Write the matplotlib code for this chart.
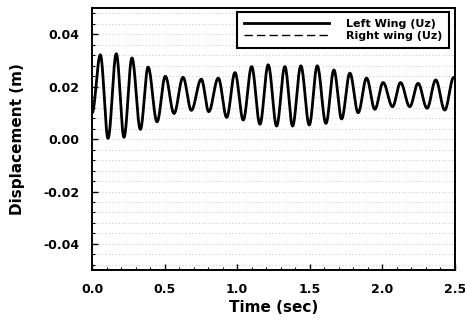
import numpy as np
import matplotlib
matplotlib.use("Agg")
import matplotlib.pyplot as plt
from matplotlib.ticker import MultipleLocator

# Extrema (time in s, displacement in m)
start_t, start_v = 0.0, 0.010
peak_t = [0.057, 0.167, 0.275, 0.386, 0.505, 0.627, 0.753, 0.870, 0.985, 1.100, 1.214,
          1.329, 1.439, 1.552, 1.667, 1.777, 1.892, 2.006, 2.126, 2.247, 2.369, 2.493]
peak_v = [0.0322, 0.0326, 0.0310, 0.0275, 0.0240, 0.0236, 0.0229, 0.0233, 0.0254, 0.0277, 0.0284,
          0.0277, 0.0280, 0.0280, 0.0264, 0.0252, 0.0233, 0.0216, 0.0216, 0.0213, 0.0226, 0.0236]
trough_t = [0.110, 0.220, 0.333, 0.448, 0.565, 0.684, 0.804, 0.928, 1.042, 1.157, 1.272,
            1.382, 1.497, 1.612, 1.720, 1.834, 1.949, 2.071, 2.190, 2.309, 2.431]
trough_v = [0.0003, 0.0007, 0.0037, 0.0066, 0.0098, 0.0110, 0.0105, 0.0083, 0.0073, 0.0057, 0.0050,
            0.0050, 0.0054, 0.0060, 0.0077, 0.0101, 0.0114, 0.0124, 0.0124, 0.0118, 0.0111]
end_t, end_v = 2.5, 0.0234

x_ticks = [0.0, 0.5, 1.0, 1.5, 2.0, 2.5]
x_ticklabels = ["0.0", "0.5", "1.0", "1.5", "2.0", "2.5"]
y_ticks = [-0.04, -0.02, 0.00, 0.02, 0.04]
y_ticklabels = ["-0.04", "-0.02", "0.00", "0.02", "0.04"]
series_labels = ["Left Wing (Uz)", "Right wing (Uz)"]

# Build a smooth curve through the read extrema (half-cosine between neighbours)
kt = [start_t]
kv = [start_v]
for i in range(len(peak_t)):
    kt.append(peak_t[i]); kv.append(peak_v[i])
    if i < len(trough_t):
        kt.append(trough_t[i]); kv.append(trough_v[i])
kt.append(end_t); kv.append(end_v)
T, V = [], []
for a in range(len(kt) - 1):
    s = np.linspace(0, 1, 20, endpoint=False)
    T.extend(kt[a] + (kt[a + 1] - kt[a]) * s)
    V.extend(kv[a] + (kv[a + 1] - kv[a]) * (1 - np.cos(np.pi * s)) / 2)
T.append(kt[-1]); V.append(kv[-1])
T = np.array(T); V = np.array(V)

plt.rcParams['font.family'] = ['DejaVu Sans']
plt.rcParams['font.weight'] = 'bold'

fig = plt.figure(figsize=(4.65, 3.27), dpi=100)
ax = fig.add_axes([0.198, 0.174, 0.780, 0.801])

# faint dotted horizontal grid
for yv in np.arange(-0.048, 0.0481, 0.004):
    ax.axhline(yv, color='#b0b0b0', lw=0.6, ls=(0, (1, 3)), zorder=0)

ax.plot(T, V, color='black', lw=2.0, label=series_labels[0], zorder=3)
ax.plot(T, V, color='black', lw=1.0, ls=(0, (6, 3)), label=series_labels[1], zorder=2)

ax.set_xlim(0, 2.5)
ax.set_ylim(-0.05, 0.05)
ax.set_xticks(x_ticks)
ax.set_xticklabels(x_ticklabels)
ax.set_yticks(y_ticks)
ax.set_yticklabels(y_ticklabels)
ax.xaxis.set_minor_locator(MultipleLocator(0.1))
ax.yaxis.set_minor_locator(MultipleLocator(0.004))
ax.tick_params(which='major', direction='in', length=4, width=1.0, labelsize=9, pad=9)
ax.tick_params(which='minor', direction='in', length=2, width=0.8)
for lab in ax.get_xticklabels() + ax.get_yticklabels():
    lab.set_fontweight('bold')
for sp in ax.spines.values():
    sp.set_linewidth(1.4)

ax.set_xlabel("Time (sec)", fontsize=11, fontweight='bold', labelpad=3)
ax.set_ylabel("Displacement (m)", fontsize=11, fontweight='bold', labelpad=13)

leg = ax.legend(loc='upper right', bbox_to_anchor=(0.985, 0.986), borderaxespad=0,
                frameon=True, fancybox=False, edgecolor='black', framealpha=1,
                prop={'weight': 'bold', 'size': 8}, handlelength=7.6, handletextpad=1.6,
                labelspacing=0.25, borderpad=0.6)
leg.get_frame().set_linewidth(1.5)
leg.get_lines()[1].set_linewidth(1.0)

fig.savefig("out.png", dpi=100)
